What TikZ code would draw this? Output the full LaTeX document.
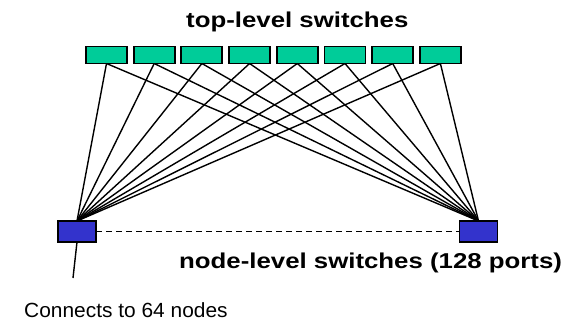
\documentclass[tikz,border=0pt]{standalone}
\usepackage{fontspec}
\setmainfont{Liberation Sans}
\newfontfamily\headfont[FakeStretch=1.2]{Liberation Sans}
\newfontfamily\notefont[FakeStretch=1.02]{Liberation Sans}
\definecolor{topgreen}{RGB}{0,204,153}
\definecolor{nodeblue}{RGB}{51,51,204}
\begin{document}
\begin{tikzpicture}[x=1pt,y=-1pt,
  topswitch/.style={draw=black,line width=1.9pt,fill=topgreen,minimum width=41pt,minimum height=17pt,inner sep=0pt,outer sep=0pt},
  nodeswitch/.style={draw=black,line width=1.9pt,fill=nodeblue,minimum width=38pt,minimum height=21pt,inner sep=0pt,outer sep=0pt},
  link/.style={draw=black,line width=1.4pt},
  headlabel/.style={anchor=base west,inner sep=0pt,font=\headfont\bfseries\fontsize{21.5}{24}\selectfont},
  notelabel/.style={anchor=base west,inner sep=0pt,font=\notefont\fontsize{20.5}{23}\selectfont}]
\useasboundingbox (0,0) rectangle (577,321);

% node-level switches
\node[nodeswitch] (L) at (77,231.5) {};
\node[nodeswitch] (R) at (478.5,231.5) {};

% top-level switches and their links to both node-level switches
\foreach \i in {0,...,7}{
  \node[topswitch] (T\i) at ({106.5+47.7*\i},55) {};
}
\foreach \i in {0,...,7}{
  \draw[link] (T\i.south) -- (L.north);
  \draw[link] (T\i.south) -- (R.north);
}
% redraw boxes on top of the link ends
\foreach \i in {0,...,7}{
  \node[topswitch] at (T\i) {};
}
\node[nodeswitch] at (L) {};
\node[nodeswitch] at (R) {};

% link between node-level switches
\draw[link,dash pattern=on 6pt off 4pt] (L.east) -- (R.west);

% uplink to the compute nodes
\coordinate (down) at (73,278);
\draw[link] (L.south) -- (down);

% labels
\node[headlabel] (toplab) at (186,28) {top-level switches};
\node[headlabel] (nodelab) at (179,268.5) {node-level switches (128 ports)};
\node[notelabel] (notelab) at (24,317.3) {Connects to 64 nodes};
\end{tikzpicture}
\end{document}
